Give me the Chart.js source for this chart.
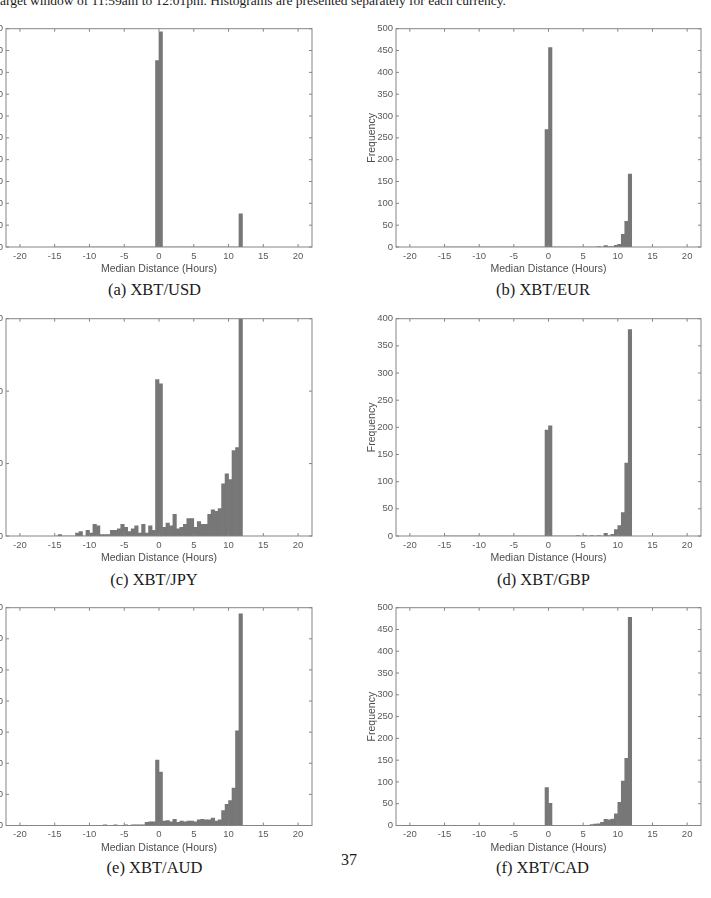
<!DOCTYPE html>
<html><head><meta charset="utf-8">
<script src="https://cdn.jsdelivr.net/npm/chart.js@4"></script>
<style>
html,body{margin:0;padding:0;background:#fff;}
body{width:711px;height:898px;position:relative;overflow:hidden;}
canvas{position:absolute;}
.cap{position:absolute;font-family:"Liberation Serif","DejaVu Serif",serif;font-size:16.5px;color:#1a1a1a;white-space:nowrap;transform:translate(-50%,-50%);line-height:1;}
#toptext{position:absolute;left:0;top:-6px;font-family:"Liberation Serif",serif;font-size:13.5px;color:#1a1a1a;white-space:nowrap;line-height:13px;}
#pagenum{position:absolute;left:349px;top:860px;font-family:"Liberation Serif",serif;font-size:16px;color:#1a1a1a;transform:translate(-50%,-50%);line-height:1;}
</style></head><body>
<div id="toptext">arget window of 11:59am to 12:01pm. Histograms are presented separately for each currency.</div>
<div id="pagenum">37</div>
<script>
// ---- data ----
const binCenters = [-14.75,-14.25,-13.75,-13.25,-12.75,-12.25,-11.75,-11.25,-10.75,-10.25,
  -9.75,-9.25,-8.75,-8.25,-7.75,-7.25,-6.75,-6.25,-5.75,-5.25,
  -4.75,-4.25,-3.75,-3.25,-2.75,-2.25,-1.75,-1.25,-0.75,-0.25,
  0.25,0.75,1.25,1.75,2.25,2.75,3.25,3.75,4.25,4.75,
  5.25,5.75,6.25,6.75,7.25,7.75,8.25,8.75,9.25,9.75,
  10.25,10.75,11.25,11.75];
const xTickValues = [-20,-15,-10,-5,0,5,10,15,20];

const usdFreq = [0,0,0,0,0,0,0,0,0,0, 0,0,0,0,0,0,0,0,0,0, 0,0,0,0,0,0,0,0,0,427,
  493,0,0,0,0,0,0,0,0,0, 0,0,0,0,0,0,0,0,0,0, 0,0,0,76];
const eurFreq = [0,0,0,0,0,0,0,0,0,0, 0,0,0,0,0,0,0,0,0,0, 0,0,0,0,0,0,0,0,0,269,
  457,0,0,0,0,0,0,0,0,0, 0,0,0,0,1,0,3,1,1,4, 6,29,59,167];
const jpyFreq = [0,1,0,0,0,0,2,3,0,4, 2,8,7,1,1,1,4,4,5,8, 6,3,5,7,2,8,2,7,4,108,
  105,6,9,7,15,5,6,8,12,12, 6,10,8,8,15,18,17,19,36,43, 39,59,61,200];
const gbpFreq = [0,0,0,0,0,0,0,0,0,0, 0,0,0,0,0,0,0,0,0,0, 0,0,0,0,0,0,0,0,0,195,
  203,0,0,0,0,0,0,0,1,0, 1,0,1,0,1,0,5,1,3,12, 19,43,134,380];
const audFreq = [0,0,0,0,0,0,0,0,0,0, 0,0,0,0,1,0,0,1,0,0, 1,0,1,1,1,1,5,6,6,105,
  86,7,8,6,10,5,7,6,7,7, 6,9,10,9,9,12,7,9,24,34, 40,60,152,340];
const cadFreq = [0,0,0,0,0,0,0,0,0,0, 0,0,0,0,0,0,0,0,0,0, 0,0,0,0,0,0,0,0,0,87,
  51,0,0,0,0,0,0,0,0,0, 0,0,2,3,4,7,14,13,15,27, 53,102,154,478];

const yTicks500 = [0,50,100,150,200,250,300,350,400,450,500];
const yTicks400 = [0,50,100,150,200,250,300,350,400];
const yTicks350 = [0,50,100,150,200,250,300,350];
const yTicks150 = [0,50,100,150];

const captions = ['(a) XBT/USD','(b) XBT/EUR','(c) XBT/JPY','(d) XBT/GBP','(e) XBT/AUD','(f) XBT/CAD'];
const xTitle = 'Median Distance (Hours)';
const yTitle = 'Frequency';

// ---- layout / style ----
const BAR = '#777777', FRAME = '#858585', TICK = '#5a5a5a', TITLE = '#4d4d4d';
const panels = [
  {vals: usdFreq, yt: yTicks500, l:6,   t:25.5, r:312, b:247,   cx:154.5, cy:290},
  {vals: eurFreq, yt: yTicks500, l:396, t:25.5, r:701, b:247,   cx:543,   cy:290},
  {vals: jpyFreq, yt: yTicks150, l:6,   t:315,  r:312, b:536,   cx:154,   cy:579.5},
  {vals: gbpFreq, yt: yTicks400, l:396, t:315,  r:701, b:536,   cx:543.5, cy:579.5},
  {vals: audFreq, yt: yTicks350, l:6,   t:604.3,r:312, b:825.5, cx:154.5, cy:868.3},
  {vals: cadFreq, yt: yTicks500, l:396, t:604.3,r:701, b:825.5, cx:542.5, cy:867.8}
];

const framePlugin = {
  id: 'frame',
  afterDraw(chart) {
    const {ctx, chartArea: a, scales: {x, y}} = chart;
    ctx.save();
    ctx.strokeStyle = FRAME;
    ctx.lineWidth = 1;
    ctx.strokeRect(a.left, a.top, a.right - a.left, a.bottom - a.top);
    ctx.beginPath();
    x.ticks.forEach(t => {
      const px = x.getPixelForValue(t.value);
      ctx.moveTo(px, a.bottom); ctx.lineTo(px, a.bottom - 3);
      ctx.moveTo(px, a.top); ctx.lineTo(px, a.top + 3);
    });
    y.ticks.forEach(t => {
      const py = y.getPixelForValue(t.value);
      ctx.moveTo(a.left, py); ctx.lineTo(a.left + 3, py);
      ctx.moveTo(a.right, py); ctx.lineTo(a.right - 3, py);
    });
    ctx.stroke();
    ctx.restore();
  }
};

const YW = 30, XH = 28, PADR = 5;
panels.forEach((p, idx) => {
  const cl = Math.round(p.l - YW);
  const ct = Math.floor(p.t) - 5;
  const cw = Math.round(p.r + PADR) - cl;
  const ch = Math.round(p.b + XH) - ct;
  const xhEff = ct + ch - p.b;
  const cv = document.createElement('canvas');
  cv.width = cw; cv.height = ch;
  cv.style.left = cl + 'px'; cv.style.top = ct + 'px';
  cv.style.width = cw + 'px'; cv.style.height = ch + 'px';
  document.body.appendChild(cv);

  const cap = document.createElement('div');
  cap.className = 'cap';
  cap.textContent = captions[idx];
  cap.style.left = p.cx + 'px'; cap.style.top = p.cy + 'px';
  document.body.appendChild(cap);

  const ymax = p.yt[p.yt.length - 1];
  new Chart(cv.getContext('2d'), {
    type: 'bar',
    data: {
      datasets: [{
        data: binCenters.map((c, i) => ({x: c, y: p.vals[i]})),
        backgroundColor: BAR,
        borderWidth: 0,
        barPercentage: 1,
        categoryPercentage: 1
      }]
    },
    options: {
      responsive: false,
      animation: false,
      devicePixelRatio: 1,
      layout: {padding: {top: p.t - ct, right: cl + cw - p.r, left: p.l - cl - YW, bottom: 0}},
      plugins: {legend: {display: false}, tooltip: {enabled: false}},
      scales: {
        x: {
          type: 'linear', min: -22, max: 22, offset: false,
          grid: {display: false, drawTicks: false},
          border: {display: false},
          afterBuildTicks: s => { s.ticks = xTickValues.map(v => ({value: v})); },
          ticks: {maxRotation: 0, autoSkip: false, padding: 3.5, color: TICK,
                  font: {family: 'Liberation Sans', size: 9.5}},
          title: {display: true, text: xTitle, color: TITLE, padding: 0,
                  font: {family: 'Liberation Sans', size: 10.5}},
          afterFit: s => { s.height = xhEff; }
        },
        y: {
          type: 'linear', min: 0, max: ymax,
          grid: {display: false, drawTicks: false},
          border: {display: false},
          afterBuildTicks: s => { s.ticks = p.yt.map(v => ({value: v})); },
          ticks: {autoSkip: false, padding: 3, color: TICK,
                  font: {family: 'Liberation Sans', size: 9.5}},
          title: {display: true, text: yTitle, color: TITLE, padding: 0,
                  font: {family: 'Liberation Sans', size: 10.5}},
          afterFit: s => { s.width = YW; }
        }
      }
    },
    plugins: [framePlugin]
  });
});
</script>
</body></html>
